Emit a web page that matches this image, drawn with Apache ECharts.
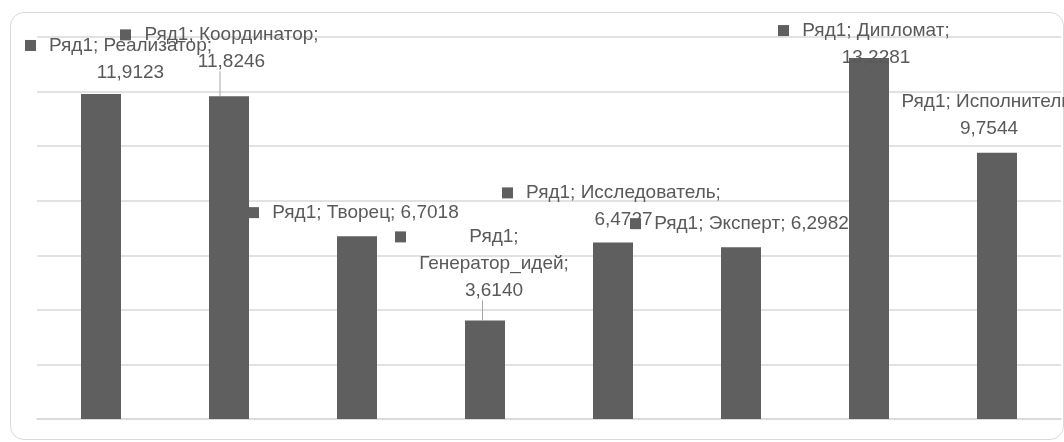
<!DOCTYPE html>
<html><head><meta charset="utf-8">
<script src="https://cdn.jsdelivr.net/npm/echarts@6/dist/echarts.min.js"></script>
<style>
html,body{margin:0;padding:0;background:#fff}
#b{position:absolute;left:10px;top:12px;width:1054px;height:428px;border:1px solid #d9d9d9;border-radius:14px;box-sizing:border-box}
#c{position:absolute;left:0;top:0;width:1064px;height:442px}
</style>
</head><body>
<div id="b"></div><div id="c"></div>
<script>
const seriesName = 'Ряд1';
const categories = ['Реализатор','Координатор','Творец','Генератор_идей','Исследователь','Эксперт','Дипломат','Исполнитель'];
const values = [11.9123, 11.8246, 6.7018, 3.6140, 6.4727, 6.2982, 13.2281, 9.7544];
const yTicks = [0, 2, 4, 6, 8, 10, 12, 14];

// label layout (text style only, not data)
const labelSplit = [2, 2, 1, 3, 2, 1, 2, 2];
const labelOffsets = [[-76,-62],[-109,-75],[-109,-37],[-90,-97],[-111,-63],[-111,-37],[-91,-41],[-120,-65]];
const labelGuide = [false, true, false, true, false, false, false, false];

const FONT_SIZE = 19, FONT_FAMILY = '"Liberation Sans", Arial, sans-serif', LINE_H = 27;
const TXT = '#595959', BAR = '#5f5f5f', GRID = '#d9d9d9';
const ctx = document.createElement('canvas').getContext('2d');
ctx.font = FONT_SIZE + 'px ' + FONT_FAMILY;
const fmt = v => v.toFixed(4).replace('.', ',');

function buildLabel(i) {
  const name = categories[i], val = fmt(values[i]);
  let lines;
  if (labelSplit[i] === 1) lines = [seriesName + '; ' + name + '; ' + val];
  else if (labelSplit[i] === 2) lines = [seriesName + '; ' + name + ';', val];
  else lines = [seriesName + ';', name + ';', val];
  const W = Math.ceil(Math.max(...lines.map(l => ctx.measureText(l).width))) + 2;
  const str = lines.map((l, j) => (j === 0 ? '{k| }{g| }' : '{sp| }') + '{t|' + l + '}').join('\n');
  return {
    show: true,
    formatter: str,
    rich: {
      k: {width: 11, height: 11, backgroundColor: BAR, fontSize: 1, lineHeight: LINE_H},
      g: {width: 12, fontSize: 1, lineHeight: LINE_H},
      sp: {width: 23, fontSize: 1, lineHeight: LINE_H},
      t: {width: W, align: 'center', fontSize: FONT_SIZE, fontFamily: FONT_FAMILY, color: TXT, lineHeight: LINE_H}
    }
  };
}

const data = values.map((v, i) => ({
  value: v,
  label: buildLabel(i),
  labelLine: {show: labelGuide[i], lineStyle: {color: '#a6a6a6', width: 1}}
}));

const chart = echarts.init(document.getElementById('c'), null, {renderer: 'canvas'});
chart.setOption({
  animation: false,
  backgroundColor: 'transparent',
  grid: {left: 37, right: 3, top: 37, bottom: 23},
  xAxis: {
    type: 'category', data: categories,
    axisLine: {show: true, lineStyle: {color: GRID, width: 1.5}},
    axisTick: {show: false}, axisLabel: {show: false}
  },
  yAxis: {
    type: 'value', min: yTicks[0], max: yTicks[yTicks.length - 1], interval: yTicks[1] - yTicks[0],
    axisLine: {show: false}, axisTick: {show: false}, axisLabel: {show: false},
    splitLine: {lineStyle: {color: GRID, width: 1.5}}
  },
  series: [{
    type: 'bar', name: seriesName, data: data, barWidth: 40,
    itemStyle: {color: BAR},
    label: {show: true, position: 'top'},
    labelLine: {show: false},
    labelLayout: function (p) {
      const i = p.dataIndex;
      return {
        x: p.rect.x + p.rect.width / 2 + labelOffsets[i][0],
        y: p.rect.y + labelOffsets[i][1],
        align: 'left', verticalAlign: 'top'
      };
    }
  }]
});
</script>
</body></html>
